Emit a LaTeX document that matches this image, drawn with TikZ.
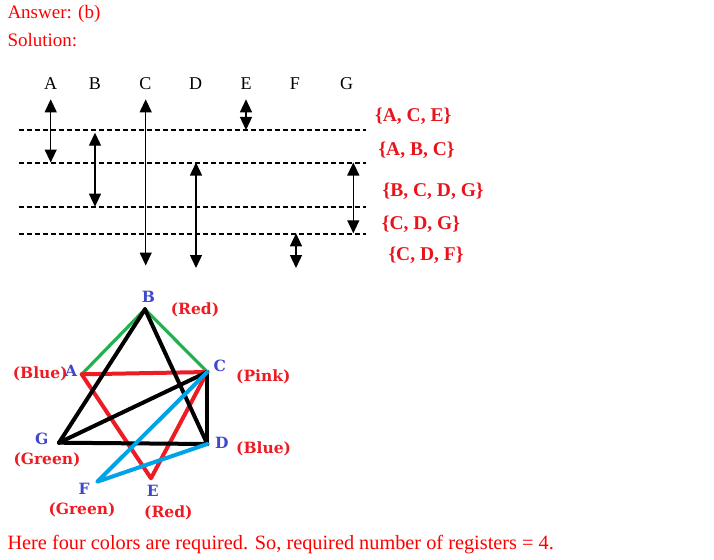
\documentclass[tikz,border=0pt]{standalone}
\usepackage{fontspec}
\setmainfont{Liberation Serif}
\newfontfamily\dvserif{DejaVu Serif}
\usetikzlibrary{arrows.meta}
\definecolor{ansred}{HTML}{FF0000}
\definecolor{setred}{HTML}{E8141C}
\definecolor{lblred}{HTML}{ED1C24}
\definecolor{vblue}{HTML}{3F48CC}
\definecolor{egreen}{HTML}{22B14C}
\definecolor{ered}{HTML}{ED1C24}
\definecolor{eblue}{HTML}{00A2E8}
\begin{document}
\begin{tikzpicture}[x=1pt,y=-1pt,
  plain/.style={anchor=base west, inner sep=0, text=ansred, font=\fontsize{19}{21}\selectfont},
  colhead/.style={anchor=base, inner sep=0, font=\fontsize{18}{20}\selectfont},
  life/.style={line width=1.3pt, {Triangle[width=12pt,length=13pt]}-{Triangle[width=12pt,length=13pt]}},
  level/.style={dash pattern=on 5pt off 3pt, line width=1.2pt},
  setlbl/.style={anchor=base west, inner sep=0, text=setred, font=\fontsize{19.5}{21}\selectfont\bfseries},
  vtx/.style={anchor=base west, inner sep=0, text=vblue, font=\dvserif\fontsize{15.5}{17}\selectfont\bfseries},
  clr/.style={anchor=base west, inner sep=0, text=lblred, font=\dvserif\fontsize{15.5}{17}\selectfont\bfseries},
  gedge/.style={line width=4pt, line cap=round, line join=round}
]
\useasboundingbox (0,0) rectangle (714,559);

% header text
\node[plain] (ans) at (7.3,18.5) {Answer: (b)};
\node[plain] (sol) at (7.3,46.5) {Solution:};

% column heads
\node[colhead] (hA) at (50.5,90) {A};
\node[colhead] (hB) at (95,90) {B};
\node[colhead] (hC) at (145.5,90) {C};
\node[colhead] (hD) at (195.7,90) {D};
\node[colhead] (hE) at (246,90) {E};
\node[colhead] (hF) at (295,90) {F};
\node[colhead] (hG) at (346.7,90) {G};

% dashed levels
\coordinate (l1s) at (19,130);   \coordinate (l1e) at (366,130);
\coordinate (l2s) at (19,163);   \coordinate (l2e) at (366,163);
\coordinate (l3s) at (19,207);   \coordinate (l3e) at (366,207);
\coordinate (l4s) at (19,234);   \coordinate (l4e) at (366,234);
\draw[level] (l1s) -- (l1e);
\draw[level] (l2s) -- (l2e);
\draw[level] (l3s) -- (l3e);
\draw[level] (l4s) -- (l4e);

% live ranges
\coordinate (aT) at (50.7,99.3);  \coordinate (aB) at (50.7,162.5);
\coordinate (bT) at (95,132.7);   \coordinate (bB) at (95,206.7);
\coordinate (cT) at (145.7,99.3); \coordinate (cB) at (145.7,265.5);
\coordinate (dT) at (196,162.5);  \coordinate (dB) at (196,268);
\coordinate (eT) at (246,99.3);   \coordinate (eB) at (246,130);
\coordinate (fT) at (296,233.3);  \coordinate (fB) at (296,268);
\coordinate (gT) at (353.3,162.5);\coordinate (gB) at (353.3,233.3);
\draw[life] (aT) -- (aB);
\draw[life] (bT) -- (bB);
\draw[life] (cT) -- (cB);
\draw[life] (dT) -- (dB);
\draw[life] (eT) -- (eB);
\draw[life] (fT) -- (fB);
\draw[life] (gT) -- (gB);

% sets
\node[setlbl] (s1) at (375,121.5) {\{A, C, E\}};
\node[setlbl] (s2) at (378.3,155) {\{A, B, C\}};
\node[setlbl] (s3) at (382.5,196.5) {\{B, C, D, G\}};
\node[setlbl] (s4) at (381.7,229.5) {\{C, D, G\}};
\node[setlbl] (s5) at (388.3,260.5) {\{C, D, F\}};

% interference graph
\coordinate (vB) at (145,309.3);
\coordinate (vA) at (81.7,374.3);
\coordinate (vC) at (207.3,372);
\coordinate (vG) at (59,442.7);
\coordinate (vD) at (207.3,444);
\coordinate (vF) at (97.3,481.7);
\coordinate (vE) at (151,478.3);

\draw[gedge, egreen, line width=3.2pt] (vA) -- (vB) -- (vC);
\draw[gedge, ered] (vA) -- (vC);
\draw[gedge, ered] (vA) -- (vE) -- (vC);
\draw[gedge, black] (vB) -- (vG);
\draw[gedge, black] (vB) -- (vD);
\draw[gedge, black] (vG) -- (vC);
\draw[gedge, black] (vG) -- (vD);
\draw[gedge, black] (vC) -- (vD);
\draw[gedge, eblue] (vC) -- (vF) -- (vD);

% vertex labels
\node[vtx] (tB) at (141.7,302.5) {B};
\node[clr] (cRed1) at (170.7,314) {(Red)};
\node[clr] (cBlue1) at (12.7,378.3) {(Blue)};
\node[vtx] (tA) at (65,376.5) {A};
\node[vtx] (tC) at (213.3,371.5) {C};
\node[clr] (cPink) at (236,381) {(Pink)};
\node[vtx] (tG) at (35,444) {G};
\node[clr] (cGreen1) at (13.3,464.3) {(Green)};
\node[vtx] (tD) at (215,448) {D};
\node[clr] (cBlue2) at (236,453.7) {(Blue)};
\node[vtx] (tF) at (78.3,494.3) {F};
\node[clr] (cGreen2) at (48.3,514.3) {(Green)};
\node[vtx] (tE) at (146.7,496) {E};
\node[clr] (cRed2) at (144,517.7) {(Red)};

% conclusion
\node[plain, font=\fontsize{20.3}{22}\selectfont] (concl) at (7.3,549) {Here four colors are required. So, required number of registers = 4.};
\end{tikzpicture}
\end{document}
